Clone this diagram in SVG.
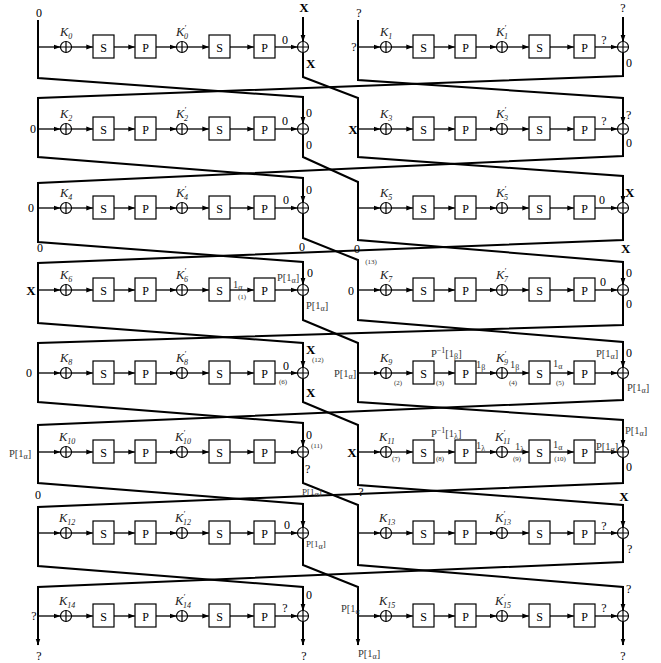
<svg xmlns="http://www.w3.org/2000/svg" width="661" height="663" viewBox="0 0 661 663" font-family="'Liberation Serif', 'DejaVu Serif', serif" fill="#000">
<style>
.w{fill:none;stroke:#000;stroke-width:2;stroke-linejoin:miter}
.h{fill:none;stroke:#000;stroke-width:1.3;marker-end:url(#a)}
.bx{fill:#fff;stroke:#000;stroke-width:1.2}
.xr{fill:#fff;stroke:#000;stroke-width:1.2}
text{font-family:'Liberation Serif','DejaVu Serif',serif;font-size:12px;fill:#000;stroke:none}
.c{text-anchor:middle}
.k{font-style:italic;font-size:12.5px;fill:#222}
.s{font-size:8px}
.bd{font-weight:bold;font-size:13px}
.sm{font-size:7px;fill:#333}
.g{font-size:10.5px;fill:#333}
.gs{font-size:9px;fill:#333}
</style>
<defs>
<marker id="a" markerWidth="7" markerHeight="6" refX="6.5" refY="3" orient="auto" markerUnits="userSpaceOnUse"><path d="M0,0.6L7,3L0,5.4z" fill="#000"/></marker>
<g id="rb">
<path class="h" d="M0,0H22.3"/>
<path class="h" d="M33.5,0H54.8"/>
<path class="h" d="M76,0H96.8"/>
<path class="h" d="M118,0H138.3"/>
<path class="h" d="M149.5,0H170.8"/>
<path class="h" d="M192,0H215.8"/>
<path class="h" d="M237,0H259.3"/>
<g class="xr"><circle cx="28" r="5.5"/><path d="M22.5,0H33.5M28,-5.5V5.5"/></g>
<g class="xr"><circle cx="144" r="5.5"/><path d="M138.5,0H149.5M144,-5.5V5.5"/></g>
<g class="xr"><circle cx="265" r="5.5"/><path d="M259.5,0H270.5M265,-5.5V5.5"/></g>
<rect class="bx" x="55" y="-12" width="21" height="23"/>
<rect class="bx" x="97" y="-12" width="21" height="23"/>
<rect class="bx" x="171" y="-12" width="21" height="23"/>
<rect class="bx" x="216" y="-12" width="21" height="23"/>
<text class="c" x="65.5" y="4.5">S</text>
<text class="c" x="107.5" y="4.5">P</text>
<text class="c" x="181.5" y="4.5">S</text>
<text class="c" x="226.5" y="4.5">P</text>
</g>
</defs>

<g id="connectors">
<path class="w" d="M38,20V78L303,97V123.5" marker-end="url(#a)"/>
<path class="w" d="M358,20V80L623,98V123.5" marker-end="url(#a)"/>
<path class="w" d="M303,17V41.5" marker-end="url(#a)"/>
<path class="w" d="M623,17V41.5" marker-end="url(#a)"/>
<path class="w" d="M303,52.5V77L358,98V157L623,176V202.5" marker-end="url(#a)"/>
<path class="w" d="M623,52.5V76L38,98V157L303,178V202.5" marker-end="url(#a)"/>
<path class="w" d="M303,134.5V157L358,182V240L623,262V284.5" marker-end="url(#a)"/>
<path class="w" d="M623,134.5V156L38,183V242L303,262V284.5" marker-end="url(#a)"/>
<path class="w" d="M303,213.5V238L358,260V320L623,342V367.5" marker-end="url(#a)"/>
<path class="w" d="M623,213.5V240L38,263V323L303,343V367.5" marker-end="url(#a)"/>
<path class="w" d="M303,295.5V320L358,343V402L623,420V446.5" marker-end="url(#a)"/>
<path class="w" d="M623,295.5V325L38,343V402L303,423V446.5" marker-end="url(#a)"/>
<path class="w" d="M303,378.5V402L358,425V485L623,505V527.5" marker-end="url(#a)"/>
<path class="w" d="M623,378.5V400L38,425V483L303,504V527.5" marker-end="url(#a)"/>
<path class="w" d="M303,457.5V483L358,505V565L623,587V610.5" marker-end="url(#a)"/>
<path class="w" d="M623,457.5V483L38,507V566L303,587V610.5" marker-end="url(#a)"/>
<path class="w" d="M303,538.5V565L358,587V645" marker-end="url(#a)"/>
<path class="w" d="M623,538.5V562L38,587V645" marker-end="url(#a)"/>
<path class="w" d="M303,621.5V645" marker-end="url(#a)"/>
<path class="w" d="M623,621.5V645" marker-end="url(#a)"/>
</g>

<g id="round0">
<use href="#rb" x="38" y="47"/>
<text class="c" x="39" y="17">0</text>
<text class="k" x="60" y="36">K<tspan class="s" dy="3">0</tspan></text>
<text class="k" x="176" y="36">K<tspan class="s" dy="-5">′</tspan><tspan class="s" dx="-2" dy="8">0</tspan></text>
<text class="c" x="285" y="44">0</text>
<text class="c bd" x="304" y="12">X</text>
<text class="bd" x="306" y="68">X</text>
</g>
<g id="round1">
<use href="#rb" x="358" y="47"/>
<text class="c" x="359" y="17">?</text>
<text class="c" x="354" y="51">?</text>
<text class="k" x="380" y="36">K<tspan class="s" dy="3">1</tspan></text>
<text class="k" x="496" y="36">K<tspan class="s" dy="-5">′</tspan><tspan class="s" dx="-2" dy="8">1</tspan></text>
<text class="c" x="604" y="44">?</text>
<text class="c" x="623" y="12">?</text>
<text x="626" y="67">0</text>
</g>

<g id="round2">
<use href="#rb" x="38" y="129"/>
<text class="c" x="33" y="133">0</text>
<text class="k" x="60" y="118">K<tspan class="s" dy="3">2</tspan></text>
<text class="k" x="176" y="118">K<tspan class="s" dy="-5">′</tspan><tspan class="s" dx="-2" dy="8">2</tspan></text>
<text class="c" x="285" y="125">0</text>
<text x="306" y="117">0</text>
<text x="306" y="149">0</text>
</g>
<g id="round3">
<use href="#rb" x="358" y="129"/>
<text class="c bd" x="353" y="134">X</text>
<text class="k" x="380" y="118">K<tspan class="s" dy="3">3</tspan></text>
<text class="k" x="496" y="118">K<tspan class="s" dy="-5">′</tspan><tspan class="s" dx="-2" dy="8">3</tspan></text>
<text class="c" x="604" y="125">?</text>
<text x="626" y="119">?</text>
<text x="626" y="147">0</text>
</g>

<g id="round4">
<use href="#rb" x="38" y="208"/>
<text class="c" x="31" y="212">0</text>
<text class="k" x="60" y="197">K<tspan class="s" dy="3">4</tspan></text>
<text class="k" x="176" y="197">K<tspan class="s" dy="-5">′</tspan><tspan class="s" dx="-2" dy="8">4</tspan></text>
<text class="c" x="286" y="204">0</text>
<text x="306" y="194">0</text>
<text class="c" x="40" y="252">0</text>
<text class="c" x="302" y="251">0</text>
</g>
<g id="round5">
<use href="#rb" x="358" y="208"/>
<text class="k" x="380" y="197">K<tspan class="s" dy="3">5</tspan></text>
<text class="k" x="496" y="197">K<tspan class="s" dy="-5">′</tspan><tspan class="s" dx="-2" dy="8">5</tspan></text>
<text class="c" x="602" y="204">0</text>
<text class="bd" x="625" y="197">X</text>
<text class="bd" x="621" y="253">X</text>
<text class="c" x="357" y="253">0</text>
<text class="c sm" x="371" y="264">(13)</text>
</g>

<g id="round6">
<use href="#rb" x="38" y="290"/>
<text class="c bd" x="31" y="295">X</text>
<text class="k" x="60" y="279">K<tspan class="s" dy="3">6</tspan></text>
<text class="k" x="176" y="279">K<tspan class="s" dy="-5">′</tspan><tspan class="s" dx="-2" dy="8">6</tspan></text>
<text class="g" x="233" y="288">1<tspan class="s" dy="2">α</tspan></text>
<text class="c sm" x="242" y="299">(1)</text>
<text class="g" x="277" y="281">P[1<tspan class="s" dy="2">α</tspan><tspan dy="-2">]</tspan></text>
<text x="307" y="277">0</text>
<text class="g" x="306" y="309">P[1<tspan class="s" dy="2">α</tspan><tspan dy="-2">]</tspan></text>
</g>
<g id="round7">
<use href="#rb" x="358" y="290"/>
<text class="c" x="351" y="295">0</text>
<text class="k" x="380" y="279">K<tspan class="s" dy="3">7</tspan></text>
<text class="k" x="496" y="279">K<tspan class="s" dy="-5">′</tspan><tspan class="s" dx="-2" dy="8">7</tspan></text>
<text class="c" x="603" y="286">0</text>
<text x="626" y="277">0</text>
<text x="626" y="308">0</text>
</g>

<g id="round8">
<use href="#rb" x="38" y="373"/>
<text class="c" x="29" y="377">0</text>
<text class="k" x="60" y="362">K<tspan class="s" dy="3">8</tspan></text>
<text class="k" x="176" y="362">K<tspan class="s" dy="-5">′</tspan><tspan class="s" dx="-2" dy="8">8</tspan></text>
<text class="c" x="286" y="370">0</text>
<text class="c sm" x="283" y="384">(6)</text>
<text class="bd" x="306" y="354">X</text>
<text class="sm" x="312" y="362">(12)</text>
<text class="bd" x="306" y="397">X</text>
</g>
<g id="round9">
<use href="#rb" x="358" y="373"/>
<text class="g" x="334" y="377">P[1<tspan class="s" dy="2">α</tspan><tspan dy="-2">]</tspan></text>
<text class="k" x="380" y="362">K<tspan class="s" dy="3">9</tspan></text>
<text class="k" x="496" y="362">K<tspan class="s" dy="-5">′</tspan><tspan class="s" dx="-2" dy="8">9</tspan></text>
<text class="c sm" x="398" y="385">(2)</text>
<text class="g" x="431" y="357">P<tspan class="s" dy="-4">−1</tspan><tspan dy="4">[1</tspan><tspan class="s" dy="2">β</tspan><tspan dy="-2">]</tspan></text>
<text class="c sm" x="440" y="385">(3)</text>
<text class="g" x="476" y="368">1<tspan class="s" dy="2">β</tspan></text>
<text class="g" x="510" y="368">1<tspan class="s" dy="2">β</tspan></text>
<text class="c sm" x="513" y="385">(4)</text>
<text class="g" x="553" y="367">1<tspan class="s" dy="2">α</tspan></text>
<text class="c sm" x="560" y="385">(5)</text>
<text class="g" x="596" y="357">P[1<tspan class="s" dy="2">α</tspan><tspan dy="-2">]</tspan></text>
<text x="626" y="357">0</text>
<text class="g" x="627" y="391">P[1<tspan class="s" dy="2">α</tspan><tspan dy="-2">]</tspan></text>
</g>

<g id="round10">
<use href="#rb" x="38" y="452"/>
<text class="g" x="9" y="457">P[1<tspan class="s" dy="2">α</tspan><tspan dy="-2">]</tspan></text>
<text class="k" x="59" y="441">K<tspan class="s" dy="3">10</tspan></text>
<text class="k" x="175" y="441">K<tspan class="s" dy="-5">′</tspan><tspan class="s" dx="-2" dy="8">10</tspan></text>
<text x="306" y="439">0</text>
<text class="sm" x="311" y="448">(11)</text>
<text x="305" y="473">?</text>
<text class="gs" x="302" y="495">P[1<tspan class="s" dy="2">α</tspan><tspan dy="-2">]</tspan></text>
</g>
<g id="round11">
<use href="#rb" x="358" y="452"/>
<text class="c bd" x="352" y="457">X</text>
<text class="k" x="379" y="441">K<tspan class="s" dy="3">11</tspan></text>
<text class="k" x="495" y="441">K<tspan class="s" dy="-5">′</tspan><tspan class="s" dx="-2" dy="8">11</tspan></text>
<text class="c sm" x="396" y="461">(7)</text>
<text class="g" x="431" y="437">P<tspan class="s" dy="-4">−1</tspan><tspan dy="4">[1</tspan><tspan class="s" dy="2">λ</tspan><tspan dy="-2">]</tspan></text>
<text class="c sm" x="440" y="461">(8)</text>
<text class="g" x="476" y="449">1<tspan class="s" dy="2">λ</tspan></text>
<text class="g" x="515" y="450">1<tspan class="s" dy="2">λ</tspan></text>
<text class="c sm" x="517" y="461">(9)</text>
<text class="g" x="553" y="448">1<tspan class="s" dy="2">α</tspan></text>
<text class="c sm" x="560" y="461">(10)</text>
<text class="g" x="596" y="450">P[1<tspan class="s" dy="2">α</tspan><tspan dy="-2">]</tspan></text>
<text class="g" x="625" y="434">P[1<tspan class="s" dy="2">α</tspan><tspan dy="-2">]</tspan></text>
<text x="626" y="471">0</text>
</g>

<g id="round12">
<use href="#rb" x="38" y="533"/>
<text class="c" x="38" y="499">0</text>
<text class="k" x="59" y="522">K<tspan class="s" dy="3">12</tspan></text>
<text class="k" x="175" y="522">K<tspan class="s" dy="-5">′</tspan><tspan class="s" dx="-2" dy="8">12</tspan></text>
<text class="c" x="287" y="529">0</text>
<text class="gs" x="306" y="547">P[1<tspan class="s" dy="2">α</tspan><tspan dy="-2">]</tspan></text>
</g>
<g id="round13">
<use href="#rb" x="358" y="533"/>
<text class="c" x="361" y="496">?</text>
<text class="k" x="379" y="522">K<tspan class="s" dy="3">13</tspan></text>
<text class="k" x="495" y="522">K<tspan class="s" dy="-5">′</tspan><tspan class="s" dx="-2" dy="8">13</tspan></text>
<text class="c" x="604" y="530">?</text>
<text class="c bd" x="624" y="501">X</text>
<text x="627" y="553">?</text>
</g>

<g id="round14">
<use href="#rb" x="38" y="616"/>
<text class="c" x="34" y="620">?</text>
<text class="k" x="59" y="605">K<tspan class="s" dy="3">14</tspan></text>
<text class="k" x="175" y="605">K<tspan class="s" dy="-5">′</tspan><tspan class="s" dx="-2" dy="8">14</tspan></text>
<text class="c" x="285" y="612">?</text>
<text x="306" y="599">0</text>
<text class="c" x="39" y="660">?</text>
<text class="c" x="304" y="660">?</text>
</g>
<g id="round15">
<use href="#rb" x="358" y="616"/>
<text class="g" x="341" y="612">P[1<tspan class="s" dy="2">α</tspan></text>
<text class="k" x="379" y="605">K<tspan class="s" dy="3">15</tspan></text>
<text class="k" x="495" y="605">K<tspan class="s" dy="-5">′</tspan><tspan class="s" dx="-2" dy="8">15</tspan></text>
<text class="c" x="604" y="612">?</text>
<text x="626" y="593">?</text>
<text class="g" x="358" y="657">P[1<tspan class="s" dy="2">α</tspan><tspan dy="-2">]</tspan></text>
<text class="c" x="623" y="660">?</text>
</g>
</svg>
